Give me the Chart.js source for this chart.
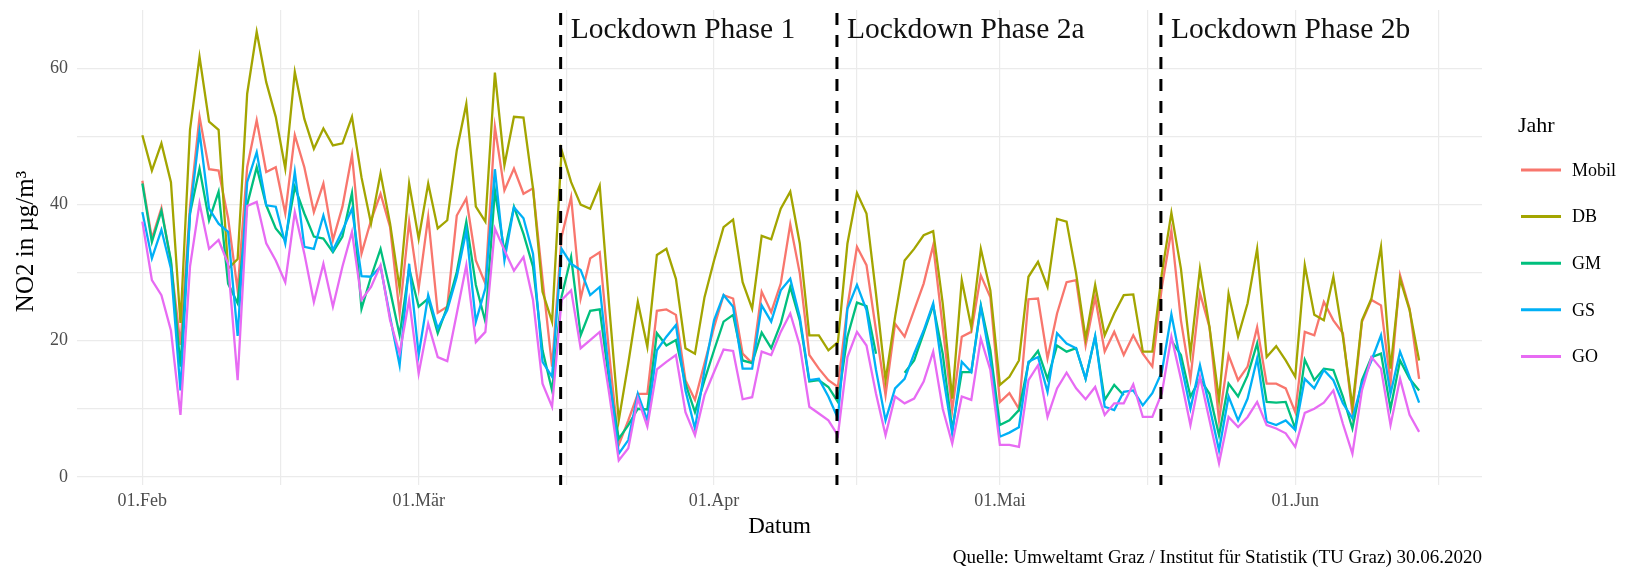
<!DOCTYPE html>
<html>
<head>
<meta charset="utf-8">
<script src="https://cdn.jsdelivr.net/npm/chart.js@4.4.1/dist/chart.umd.min.js"></script>
<style>
  html, body { margin: 0; padding: 0; background: #fff; }
  #wrap { width: 1636px; height: 568px; position: relative; }
</style>
</head>
<body>
<div id="wrap"><canvas id="grafNO2"></canvas></div>
<script>
// Tage ab 01.Feb 2020 (Index 0 = 01.Feb)
const tickDays   = [0, 29, 60, 90, 121];
const tickLabels = ['01.Feb', '01.Mär', '01.Apr', '01.Mai', '01.Jun'];
const minorDays  = [14.5, 44.5, 75, 105.5, 136];
const yMajor     = [0, 20, 40, 60];
const yMinor     = [10, 30, 50];

const phaseDays   = [43.9, 72.9, 106.9];
const phaseLabels = ['Lockdown Phase 1', 'Lockdown Phase 2a', 'Lockdown Phase 2b'];

const serien  = ['Mobil', 'DB', 'GM', 'GS', 'GO'];
const farben  = ['#F8766D', '#A3A500', '#00BF7D', '#00B0F6', '#E76BF3'];

const mobil = [
  43.5, 35, 39.5, 31.5, 19.4, 39.7, 52.9, 45.2, 45, 38, 27.4, 45.5, 52.4, 44.8, 45.5, 38.7, 50.2, 45.5, 38.9, 43.1,
  34.8, 39.7, 47.3, 32.8, 37.7, 41.6, 36.7, 24, 37.5, 27.7, 38.2, 24.1, 25, 38.4, 40.9, 31.8, 28.4, 51.4, 42.1, 45.3,
  41.6, 42.4, 29, 16.2, 35.3, 41.1, 26.2, 32.1, 33, 18, 4.7, 8.3, 12.2, 12.2, 24.4, 24.6, 23.8, 14.2, 11.3, 16.7,
  22, 26.7, 26.2, 18.1, 16.7, 27.2, 24.2, 28.4, 37.1, 29.9, 17.9, 15.9, 14.2, 13.2, 25, 33.8, 31.1, 21.5, 12, 22.5,
  20.6, 24.5, 28.4, 34, 22, 9.8, 20.6, 21.3, 29.6, 26.4, 11, 12.3, 10, 26.1, 26.2, 17.4, 24, 28.6, 28.9, 19.3,
  26.4, 18.4, 21.3, 17.9, 20.8, 18.1, 16.2, 27.9, 36.2, 23, 14.4, 27, 22, 8.3, 17.9, 14.2, 16.2, 22, 13.7, 13.7,
  13, 9.5, 21.3, 20.8, 25.7, 23, 21.1, 9.3, 22.8, 26, 25.2, 13.7, 29.6, 24.7, 14.4
];
const db = [
  50.2, 45, 49, 43.3, 22.6, 51, 61.7, 52.2, 51, 30.6, 32, 56.3, 65.4, 58, 52.9, 45.3, 59.5, 52.6, 48.2, 51.2,
  48.7, 49, 52.9, 44, 37.2, 44.6, 37.2, 27.7, 43.1, 35, 43.1, 36.5, 37.7, 48, 54.8, 39.7, 37.5, 59.4, 45.8, 52.9,
  52.8, 42.4, 27.2, 22.8, 48, 43.3, 40, 39.4, 42.8, 25, 8.3, 16.7, 25.7, 19.1, 32.6, 33.5, 29.1, 18.9, 18.1, 26.4,
  31.8, 36.7, 37.8, 28.6, 24.7, 35.4, 34.9, 39.4, 41.9, 34.3, 20.8, 20.8, 18.6, 19.8, 34.3, 41.7, 38.7, 26.9, 14.2, 23.5,
  31.8, 33.5, 35.5, 36.1, 25.5, 11.5, 28.9, 22, 33.5, 27.4, 13.5, 14.7, 17.1, 29.4, 31.6, 27.9, 37.9, 37.5, 29.9, 20.3,
  28.2, 20.8, 24, 26.7, 26.8, 18.4, 18.4, 29.9, 38.8, 30.6, 18.1, 30.6, 22, 11.3, 26.9, 20.6, 25.5, 33.5, 17.6, 19.2,
  17.1, 14.7, 31.1, 23.8, 23, 29.4, 20.6, 10.3, 23, 26.2, 33.8, 15.9, 29.1, 24.5, 17.1
];
const gm = [
  43.1, 34.5, 39.1, 31.8, 16.2, 38.7, 45.3, 37.7, 41.9, 28.4, 25.5, 40, 45.5, 39.9, 36.5, 34.8, 42.6, 38.7, 35.3, 35,
  33, 35.3, 41.7, 24.7, 29.4, 33.5, 27.4, 20.8, 30.6, 25, 26.2, 21.1, 25, 30.1, 37.5, 28.2, 22.8, 42.1, 33, 39.7,
  35.7, 30.9, 18.6, 12.7, 26.5, 32.3, 20.8, 24.4, 24.6, 14, 5.6, 7.6, 10, 9.9, 21.1, 19.3, 20.1, 13.7, 9.5, 14.2,
  18.6, 22.8, 23.8, 17.1, 16.7, 21.2, 18.9, 22.5, 27.9, 23, 14, 14.2, 13.2, 11, 20.6, 25.6, 25.1, 18.1, null, null,
  15.3, 17.1, 21.1, 25.2, 18.1, 6.9, 15.4, 15.4, 25.2, 18.6, 7.6, 8.3, 9.8, 16.7, 18.5, 14.4, 19.3, 18.4, 18.9, 14.4,
  20.6, 11.3, 13.5, 12, null, null, null, null, 20, 17.9, 11.8, 14.4, 12.2, 6.1, 13.7, 11.8, 14.9, 19.6, 11, 10.9,
  11, 7.1, 17.2, 14.2, 15.9, 15.7, 11.8, 7.1, 14.2, 17.6, 18.1, 10, 17.1, 14.4, 12.7
];
const gs = [
  38.9, 32.1, 36.3, 30.6, 12.7, 38.7, 50.7, 39.4, 37.2, 36, 20.7, 43.3, 47.7, 39.9, 39.7, 34.3, 44.8, 33.8, 33.5, 38.4,
  33.3, 36.2, 39.4, 29.5, 29.4, 30.9, 23.5, 16.4, 31.3, 17.9, 26.7, 21.8, 24.5, 29.4, 36.2, 22.8, 27.7, 45.2, 31.8, 39.6,
  38, 32.8, 16.9, 14.7, 33.5, 31.3, 30.4, 26.7, 27.9, 15, 3.4, 5.4, 12.2, 8.3, 18.6, 20.6, 22.3, 12.7, 7.1, 15.7,
  23, 26.7, 25, 15.9, 15.9, 25.2, 22.8, 27.4, 29.1, 23.5, 14.2, 14.4, 11.8, 8.6, 24.7, 28.2, 24.5, 15.7, 8.3, 13,
  14.4, 18.1, 21.5, 25.5, 15.2, 6.4, 16.9, 15.4, 25, 17.1, 5.9, 6.5, 7.3, 16.9, 17.6, 12.5, 21.1, 19.6, 18.9, 14.4,
  20.7, 10.3, 9.8, 12.5, 12.7, 10.5, 12.3, 15.4, 23.9, 16.7, 10, 16.4, 10.3, 3.9, 11.8, 8.3, 11.5, 17.4, 8.1, 7.6,
  8.3, 6.9, 14.4, 13, 15.7, 14.2, 10.8, 8.6, 13.7, 17.1, 20.8, 12.2, 18.4, 14.7, 10.9
];
const go = [
  37.5, 28.9, 26.7, 21.5, 9.1, 30.9, 40.2, 33.5, 34.8, 31.3, 14.2, 39.8, 40.4, 34.3, 31.8, 28.6, 38.9, 32.8, 25.7, 31.3,
  25, 30.9, 36, 26, 27.9, 31.1, 23, 18.1, 26, 15.2, 22.5, 17.6, 17, 24, 31.1, 19.8, 21.3, 36.5, 33.3, 30.3,
  32.3, 26, 13.7, 10.3, 26, 27.4, 18.9, 20.1, 21.3, 12.2, 2.4, 4.2, 11.5, 7.4, 15.8, 16.9, 17.9, 9.5, 6.1, 12,
  15.4, 18.7, 18.5, 11.4, 11.7, 18.4, 17.9, 21.3, 24, 19.3, 10.3, 9.3, 8.3, 6.1, 17.6, 21.3, 19.3, 12.2, 6.1, 11.8,
  10.8, 11.5, 14, 18.4, 10, 4.9, 11.8, 11.3, 20.3, 15.7, 4.7, 4.7, 4.4, 14.2, 16.4, 8.8, 13, 15.3, 13, 11.4,
  13.2, 9.1, 10.8, 10.8, 13.6, 8.8, 8.8, 12.3, 20.6, 14.4, 7.6, 14.7, 8.3, 2, 8.8, 7.3, 8.8, 11, 7.6, 7.1,
  6.4, 4.4, 9.4, 10, 10.9, 12.7, 7.8, 3.4, 12.7, 17.6, 15.9, 7.6, 14.4, 9.1, 6.6
];
const werte = [mobil, db, gm, gs, go];

const SERIF  = "'Liberation Serif', 'DejaVu Serif', serif";
const GRID   = '#EBEBEB';
const GRAU   = '#4D4D4D';

// Linien fuer die Lockdown-Phasen, Legende, Achsentitel und Quelle
const extras = {
  id: 'extras',
  afterDatasetsDraw(chart) {
    const { ctx, chartArea, scales } = chart;
    ctx.save();
    ctx.strokeStyle = '#000';
    ctx.lineWidth = 3;
    ctx.setLineDash([12, 10]);
    phaseDays.forEach((d, i) => {
      const x = scales.x.getPixelForValue(d);
      ctx.beginPath();
      ctx.moveTo(x, chartArea.top + 3);
      ctx.lineTo(x, chartArea.bottom);
      ctx.stroke();
      ctx.fillStyle = '#111';
      ctx.font = `29.5px ${SERIF}`;
      ctx.textBaseline = 'alphabetic';
      ctx.textAlign = 'left';
      ctx.fillText(phaseLabels[i], x + 10, 38);
    });
    ctx.restore();
  },
  afterDraw(chart) {
    const { ctx, chartArea } = chart;
    ctx.save();
    ctx.fillStyle = '#000';

    // y-Titel
    ctx.save();
    ctx.translate(26, (chartArea.top + chartArea.bottom) / 2 - 6);
    ctx.rotate(-Math.PI / 2);
    ctx.font = `25px ${SERIF}`;
    ctx.textAlign = 'center';
    ctx.textBaseline = 'middle';
    ctx.fillText('NO2 in µg/m³', 0, 0);
    ctx.restore();

    // x-Titel
    ctx.font = `23px ${SERIF}`;
    ctx.textAlign = 'center';
    ctx.textBaseline = 'middle';
    ctx.fillText('Datum', (chartArea.left + chartArea.right) / 2, 527);

    // Quelle
    ctx.font = `19px ${SERIF}`;
    ctx.textAlign = 'right';
    ctx.fillText('Quelle: Umweltamt Graz / Institut für Statistik (TU Graz) 30.06.2020', chartArea.right, 558);

    // Legende
    ctx.textAlign = 'left';
    ctx.font = `22px ${SERIF}`;
    ctx.fillText('Jahr', 1518, 126);
    ctx.font = `18px ${SERIF}`;
    serien.forEach((s, i) => {
      const y = 170 + i * 46.6;
      ctx.strokeStyle = farben[i];
      ctx.lineWidth = 3;
      ctx.beginPath();
      ctx.moveTo(1521, y);
      ctx.lineTo(1561, y);
      ctx.stroke();
      ctx.fillStyle = '#000';
      ctx.fillText(s, 1572, y + 1);
    });
    ctx.restore();
  }
};

new Chart(document.getElementById('grafNO2'), {
  type: 'line',
  data: {
    datasets: serien.map((s, i) => ({
      label: s,
      data: werte[i].map((v, d) => ({ x: d, y: v })),
      borderColor: farben[i],
      backgroundColor: farben[i],
      borderWidth: 2.3,
      pointRadius: 0,
      tension: 0,
      spanGaps: false,
      order: serien.length - i
    }))
  },
  options: {
    responsive: true,
    maintainAspectRatio: false,
    animation: false,
    layout: { padding: { top: 10, right: 154, bottom: 0, left: 0 } },
    plugins: { legend: { display: false }, tooltip: { enabled: false } },
    scales: {
      x: {
        type: 'linear',
        min: -6.86,
        max: 140.6,
        afterFit: s => { s.height = 83; s.paddingLeft = 0; s.paddingRight = 0; },
        afterBuildTicks: s => {
          s.ticks = [...tickDays.map(v => ({ value: v, major: true })), ...minorDays.map(v => ({ value: v }))]
            .sort((a, b) => a.value - b.value);
        },
        ticks: {
          autoSkip: false,
          maxRotation: 0,
          padding: 5,
          color: GRAU,
          font: { family: SERIF, size: 18 },
          callback: v => { const k = tickDays.indexOf(v); return k >= 0 ? tickLabels[k] : ''; }
        },
        grid: { color: GRID, lineWidth: 1.2, drawTicks: false },
        border: { display: false }
      },
      y: {
        min: -1.2,
        max: 68.6,
        afterFit: s => { s.width = 77; s.paddingTop = 0; s.paddingBottom = 0; },
        afterBuildTicks: s => {
          s.ticks = [...yMajor, ...yMinor].sort((a, b) => a - b).map(v => ({ value: v }));
        },
        ticks: {
          padding: 9,
          color: GRAU,
          font: { family: SERIF, size: 18 },
          callback: v => yMajor.includes(v) ? String(v) : ''
        },
        grid: { color: GRID, lineWidth: 1.2, drawTicks: false },
        border: { display: false }
      }
    }
  },
  plugins: [extras]
});
</script>
</body>
</html>
